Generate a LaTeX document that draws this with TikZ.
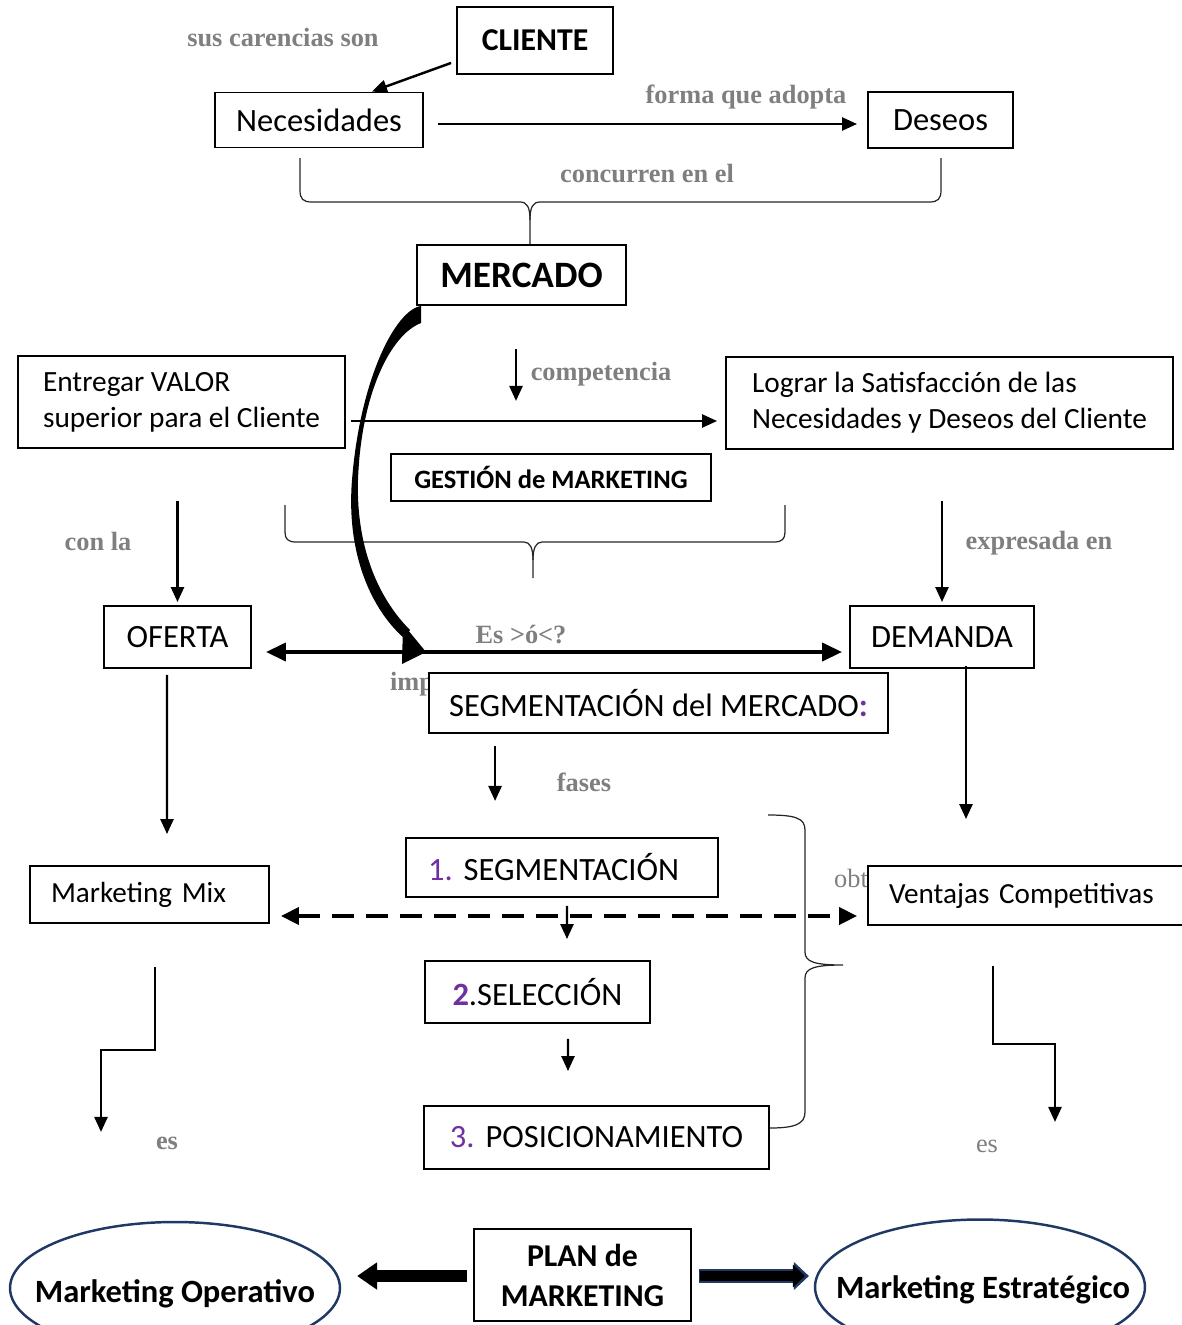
\documentclass[tikz,border=0pt]{standalone}
\usepackage{fontspec}
\setmainfont{Carlito}
\newfontfamily\tnr{Liberation Serif}
\usetikzlibrary{arrows.meta, calc, shapes.geometric}

\definecolor{gris}{RGB}{127,127,127}
\definecolor{morado}{RGB}{112,48,160}
\definecolor{marino}{RGB}{31,56,100}

\tikzset{
  caja/.style={draw, fill=white, line width=1.1pt, inner sep=0pt, align=center,
    font=\fontsize{18.5}{22}\selectfont},
  nota/.style={text=gris, inner sep=0pt, font=\tnr\bfseries\fontsize{15}{18}\selectfont},
  notafina/.style={text=gris, inner sep=0pt, font=\tnr\fontsize{15}{18}\selectfont},
  llave/.style={draw=black!85, line width=0.7pt},
  elipse/.style={ellipse, draw=marino, line width=1.4pt, inner sep=0pt, minimum width=6.6cm},
  elipsetexto/.style={inner sep=0pt, font=\bfseries\fontsize{18.5}{22}\selectfont}
}

\begin{document}
\begin{tikzpicture}[x=0.02cm, y=-0.02cm, line width=1.4pt,
    >={Triangle[length=0.3cm, width=0.26cm]}]
\useasboundingbox (0,0) rectangle (1182,1325);

% Labels
\node[nota] (lcarencias) at (283,38) {sus carencias son};
\node[nota] (lforma) at (746,97) {forma que adopta};
\node[nota] (lconcurren) at (647,174) {concurren en el};
\node[nota] (lcompetencia) at (601,374) {competencia};
\node[nota] (lconla) at (98,541) {con la};
\node[nota] (lexpresada) at (1039,543) {expresada en};
\node[nota] (les) at (521,635) {Es >ó<?};
\node[nota] (limp) at (412,684) {imp};
\node[nota] (lfases) at (584,782) {fases};
\node[notafina] (lobt) at (851,878) {obt};
\node[nota] (lesizq) at (167,1143) {es};
\node[notafina] (lesder) at (987,1146) {es};

% Boxes
\node[caja, minimum width=3.12cm, minimum height=1.34cm,
  font=\bfseries\fontsize{18.1}{22}\selectfont] (cliente) at (535,40.5) {CLIENTE};
\node[caja, minimum width=4.16cm, minimum height=1.1cm] (necesidades) at (319,120) {Necesidades};
\node[caja, minimum width=2.9cm, minimum height=1.12cm] (deseos) at (940.5,120) {Deseos};
\node[caja, minimum width=4.18cm, minimum height=1.2cm,
  font=\bfseries\fontsize{21.2}{25}\selectfont] (mercado) at (521.5,275) {MERCADO};
\node[caja, align=left, minimum width=6.54cm, minimum height=1.84cm,
  font=\fontsize{16.7}{20.4}\selectfont] (entregar) at (181.5,402)
  {Entregar VALOR\\superior para el Cliente};
\node[caja, align=left, minimum width=8.94cm, minimum height=1.84cm,
  font=\fontsize{16.7}{20.4}\selectfont] (lograr) at (949.5,403)
  {Lograr la Satisfacción de las\\Necesidades y Deseos del Cliente};
\node[caja, minimum width=6.4cm, minimum height=0.94cm,
  font=\bfseries\fontsize{15.1}{18}\selectfont] (gestion) at (551,477.5) {GESTIÓN de MARKETING};
\node[caja, minimum width=2.94cm, minimum height=1.24cm] (oferta) at (177.5,637) {OFERTA};
\node[caja, minimum width=3.68cm, minimum height=1.24cm] (demanda) at (942,637) {DEMANDA};
\node[caja, minimum width=9.18cm, minimum height=1.2cm] (segm) at (658.5,703)
  {SEGMENTACIÓN del MERCADO{\color{morado}\bfseries :}};
\node[caja, align=left, text width=3.94cm, inner xsep=0.42cm, minimum height=1.14cm,
  font=\fontsize{16.6}{20}\selectfont] (marketingmix) at (149.5,894.5) {\mbox{Marketing Mix}};
\node[caja, align=left, text width=5.76cm, inner xsep=0.42cm, minimum height=1.18cm,
  font=\fontsize{16.6}{20}\selectfont] (ventajas) at (1033,895.5) {\mbox{Ventajas Competitivas}};
\node[caja, align=left, text width=5.36cm, inner xsep=0.44cm, minimum height=1.18cm]
  (paso1) at (562,867.5) {\mbox{{\color{morado}1.}\hspace{0.22cm}SEGMENTACIÓN}};
\node[caja, minimum width=4.5cm, minimum height=1.24cm] (paso2) at (537.5,992)
  {{\color{morado}\bfseries 2}.SELECCIÓN};
\node[caja, minimum width=6.9cm, minimum height=1.26cm] (paso3) at (596.5,1137.5)
  {{\color{morado}3.}\hspace{0.22cm}POSICIONAMIENTO};
\node[caja, minimum width=4.34cm, minimum height=1.84cm,
  font=\bfseries\fontsize{18.1}{22.7}\selectfont] (plan) at (582.5,1275) {PLAN de\\MARKETING};
\node[elipse, minimum height=2.64cm,
  label={[elipsetexto, yshift=-0.12cm]center:Marketing Operativo}] (operativo) at (175,1288) {};
\node[elipse, minimum height=2.7cm,
  label={[elipsetexto, xshift=0.06cm, yshift=-0.06cm]center:Marketing Estratégico}] (estrategico) at (980,1287) {};

% Braces
\path[llave] (300,158) -- (300,190) .. controls (300,199) and (303,202) .. (312,202)
  -- (520,202) .. controls (527,202) and (530,207) .. (530,220) -- (mercado.north -| 530,0);
\path[llave] (941,158) -- (941,190) .. controls (941,199) and (938,202) .. (929,202)
  -- (540,202) .. controls (533,202) and (530,207) .. (530,220);
\path[llave] (285,505) -- (285,532) .. controls (285,539) and (288,542) .. (296,542)
  -- (524,542) .. controls (530,542) and (533,548) .. (533,560) -- (533,578);
\path[llave] (785,505) -- (785,532) .. controls (785,539) and (782,542) .. (774,542)
  -- (542,542) .. controls (536,542) and (533,548) .. (533,560);
\path[llave] (768,815) .. controls (795,815) and (805,818) .. (805,830) -- (805,952)
  .. controls (805,962) and (815,965) .. (843,965)
  .. controls (815,965) and (805,968) .. (805,978) -- (805,1112)
  .. controls (805,1124) and (795,1128) .. (paso3.east |- 0,1128);

% Connectors
\draw[->] ($(cliente.south west)+(-5,-12)$) -- ($(necesidades.north)+(53,0)$);
\draw[->] ($(necesidades.east)+(14,4)$) -- ($(deseos.west)+(-10,4)$);
\draw[->] ($(mercado.south)+(-5.5,43)$) -- ($(mercado.south)+(-5.5,95)$);
\draw[->] ($(entregar.east)+(5,19)$) -- ($(lograr.west)+(-8,18)$);
\draw[->] ($(oferta.north)+(0,-104)$) -- ($(oferta.north)+(0,-3)$);
\draw[->] ($(demanda.north)+(0,-104)$) -- ($(demanda.north)+(0,-3)$);
\draw[<->, line width=2.2pt, >={Triangle[length=0.4cm, width=0.36cm]}]
  ($(oferta.east)+(14,15)$) -- ($(demanda.west)+(-7,15)$);
\draw[->] ($(segm.south west)+(67,12)$) -- ($(segm.south west)+(67,67)$);
\draw[->] ($(oferta.south)+(-10.5,6)$) -- ($(marketingmix.north)+(17.5,-31)$);
\draw[->] ($(demanda.south)+(24,-3)$) -- ($(ventajas.north)+(-67,-46)$);
\draw[<->, line width=2.2pt, dash pattern=on 0.44cm off 0.24cm,
  >={Triangle[length=0.36cm, width=0.34cm]}]
  ($(marketingmix.east)+(11,21.5)$) -- ($(ventajas.west)+(-10,20.5)$);
\draw[->] ($(paso1.south)+(5,8)$) -- ($(paso2.north)+(29.5,-21)$);
\draw[->] ($(paso2.south)+(30.5,15)$) -- ($(paso3.north)+(-28.5,-34)$);
\draw[->] ($(marketingmix.south)+(5.5,43)$) -- ++(0,83) -- ++(-54,0) -- ++(0,82);
\draw[->] ($(ventajas.south)+(-40,40)$) -- ++(0,78) -- ++(62,0) -- ++(0,78);

% MERCADO curved arrow
\fill ($(mercado.south west)+(5,0)$) .. controls (395,310) and (360,380) .. (352,480)
  .. controls (346,555) and (372,610) .. (404,638) -- (410,630)
  .. controls (380,600) and (356,550) .. (358,480)
  .. controls (361,395) and (390,335) .. ($(mercado.south west)+(5,17)$) -- cycle;
\fill (403,624) -- (426,652) -- (402,664) -- cycle;

% PLAN arrows
\draw[-{Triangle[length=0.4cm, width=0.52cm]}, line width=6.8pt]
  ($(plan.west)+(-6,1)$) -- ($(plan.west)+(-116,1)$);
\draw[-{Triangle[length=0.3cm, width=0.54cm]}, line width=8.4pt, marino]
  ($(plan.east)+(7,1)$) -- ($(plan.east)+(117,1)$);
\draw[-{Triangle[length=0.24cm, width=0.44cm]}, line width=6.2pt]
  ($(plan.east)+(8,1)$) -- ($(plan.east)+(113,1)$);
\end{tikzpicture}
\end{document}
